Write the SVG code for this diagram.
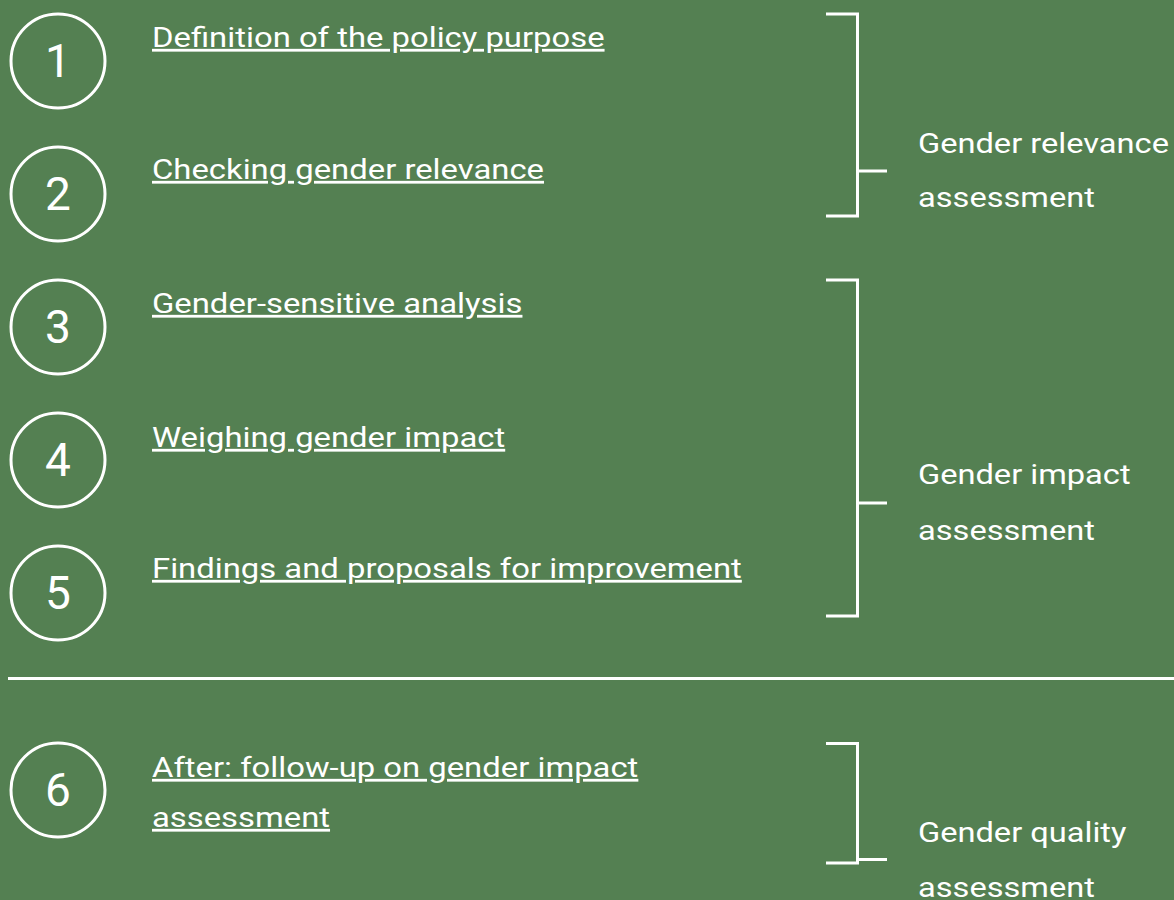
<svg xmlns="http://www.w3.org/2000/svg" width="1174" height="900" viewBox="0 0 1174 900">
<style>
.bg{fill:#548052}
.c{fill:none;stroke:#fff;stroke-width:3}
.n{font-family:Roboto,"Liberation Sans",sans-serif;font-size:46px;fill:#fff;text-anchor:middle}
.t{font-family:Roboto,"Liberation Sans",sans-serif;font-size:28px;fill:#fff;text-decoration:underline;text-underline-offset:5px;text-decoration-thickness:2px}
.g{font-family:Roboto,"Liberation Sans",sans-serif;font-size:28px;fill:#fff}
.b{fill:none;stroke:#fff;stroke-width:3}
</style>
<rect class="bg" x="0" y="0" width="1174" height="900"/>
<g id="step1"><circle class="c" cx="58" cy="61" r="47"/><text class="n" x="58" y="77">1</text><text class="t" transform="matrix(1.172 0 0 1 152 47)">Definition of the policy purpose</text></g>
<g id="step2"><circle class="c" cx="58" cy="194" r="47"/><text class="n" x="58" y="210">2</text><text class="t" transform="matrix(1.172 0 0 1 152 179)">Checking gender relevance</text></g>
<g id="step3"><circle class="c" cx="58" cy="327" r="47"/><text class="n" x="58" y="343">3</text><text class="t" transform="matrix(1.172 0 0 1 152 313)">Gender-sensitive analysis</text></g>
<g id="step4"><circle class="c" cx="58" cy="460" r="47"/><text class="n" x="58" y="476">4</text><text class="t" transform="matrix(1.172 0 0 1 152 447)">Weighing gender impact</text></g>
<g id="step5"><circle class="c" cx="58" cy="593" r="47"/><text class="n" x="58" y="609">5</text><text class="t" transform="matrix(1.172 0 0 1 152 578)">Findings and proposals for improvement</text></g>
<g id="step6"><circle class="c" cx="58" cy="790" r="47"/><text class="n" x="58" y="806">6</text><text class="t" transform="matrix(1.172 0 0 1 152 777)">After: follow-up on gender impact</text><text class="t" transform="matrix(1.172 0 0 1 152 827)">assessment</text></g>
<g id="separator"><line x1="8" y1="678.5" x2="1174" y2="678.5" stroke="#fff" stroke-width="3"/></g>
<g id="connectors">
<path class="b" d="M826 14H857.5V216H826M857.5 171H887"/>
<path class="b" d="M826 280H857.5V616H826M857.5 503H887"/>
<path class="b" d="M826 743.5H857.5V863H826M857.5 859.5H887"/>
</g>
<g id="group-relevance"><text class="g" transform="matrix(1.165 0 0 1 918 152.5)">Gender relevance</text><text class="g" transform="matrix(1.165 0 0 1 918 207)">assessment</text></g>
<g id="group-impact"><text class="g" transform="matrix(1.165 0 0 1 918 484)">Gender impact</text><text class="g" transform="matrix(1.165 0 0 1 918 540)">assessment</text></g>
<g id="group-quality"><text class="g" transform="matrix(1.165 0 0 1 918 842)">Gender quality</text><text class="g" transform="matrix(1.165 0 0 1 918 897)">assessment</text></g>
</svg>
